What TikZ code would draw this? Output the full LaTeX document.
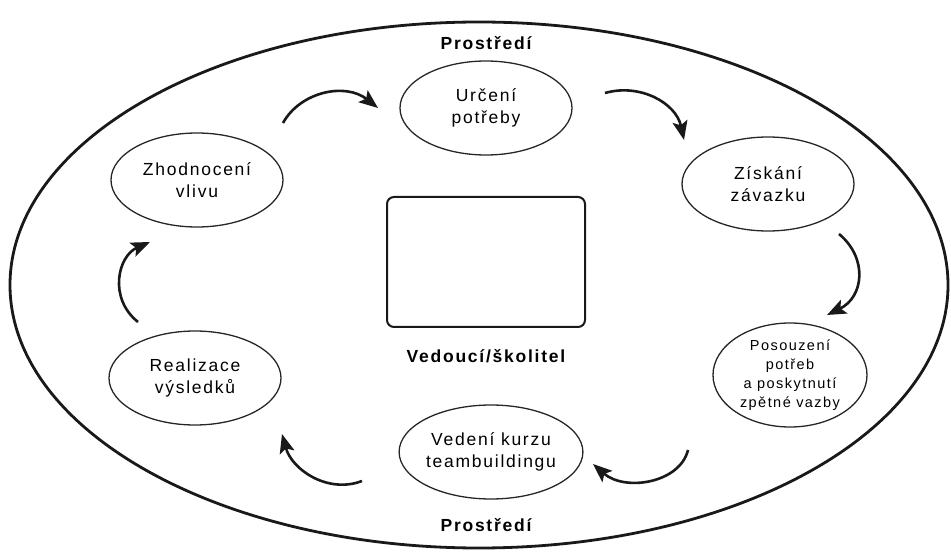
\documentclass[tikz,border=0pt]{standalone}
\usepackage{fontspec}
\usetikzlibrary{shapes.geometric,arrows.meta}
\newfontfamily\labfont{Liberation Sans}[LetterSpace=10]
\begin{document}
\begin{tikzpicture}[x=1pt,y=-1pt,
  stage/.style={draw=black!85,line width=1.3pt,ellipse,minimum width=172pt,minimum height=94pt,inner sep=0pt,align=center,font=\labfont\fontsize{17.5}{22}\selectfont},
  title/.style={font=\labfont\bfseries\fontsize{17.5}{20}\selectfont,inner sep=0pt},
  cyc/.style={line width=2.6pt,black!90,-{Stealth[length=19pt,width=15pt,inset=4pt]}}]
\useasboundingbox (0,0) rectangle (951,553);
\node[draw=black!90,line width=2.8pt,ellipse,minimum width=938pt,minimum height=526pt,inner sep=0pt] (env) at (479,285) {};
\node[title] (ptop) at (486,43) {Prostředí};
\node[title] (pbot) at (486,525) {Prostředí};
\node[draw=black!90,line width=2pt,rounded corners=7pt,minimum width=198pt,minimum height=130pt,inner sep=0pt] (box) at (486,262) {};
\node[title] (lead) at (486,356) {Vedoucí/školitel};
\node[stage] (u) at (486,108) {Určení\\potřeby};
\node[stage] (z) at (768,184) {Získání\\závazku};
\node[stage,minimum width=154pt,minimum height=104pt,font=\labfont\fontsize{14.5}{19}\selectfont] (p) at (790,375) {Posouzení\\potřeb\\a poskytnutí\\zpětné vazby};
\node[stage] (v) at (491,452) {Vedení kurzu\\teambuildingu};
\node[stage] (r) at (195,378) {Realizace\\výsledků};
\node[stage] (h) at (197,180) {Zhodnocení\\vlivu};
\coordinate (a1s) at (283,123); \coordinate (a1e) at (378,108);
\coordinate (a2s) at (605,93);  \coordinate (a2e) at (684,140);
\coordinate (a3s) at (839,234); \coordinate (a3e) at (827,315);
\coordinate (a4s) at (688,450); \coordinate (a4e) at (593,464);
\coordinate (a5s) at (362,481); \coordinate (a5e) at (282,434);
\coordinate (a6s) at (138,322); \coordinate (a6e) at (150,242);
\draw[cyc] (a1s) .. controls (300,92) and (345,82) .. (a1e);
\draw[cyc] (a2s) .. controls (640,83) and (676,103) .. (a2e);
\draw[cyc] (a3s) .. controls (868,258) and (864,297) .. (a3e);
\draw[cyc] (a4s) .. controls (680,483) and (625,492) .. (a4e);
\draw[cyc] (a5s) .. controls (328,494) and (292,470) .. (a5e);
\draw[cyc] (a6s) .. controls (108,298) and (118,256) .. (a6e);
\end{tikzpicture}
\end{document}
